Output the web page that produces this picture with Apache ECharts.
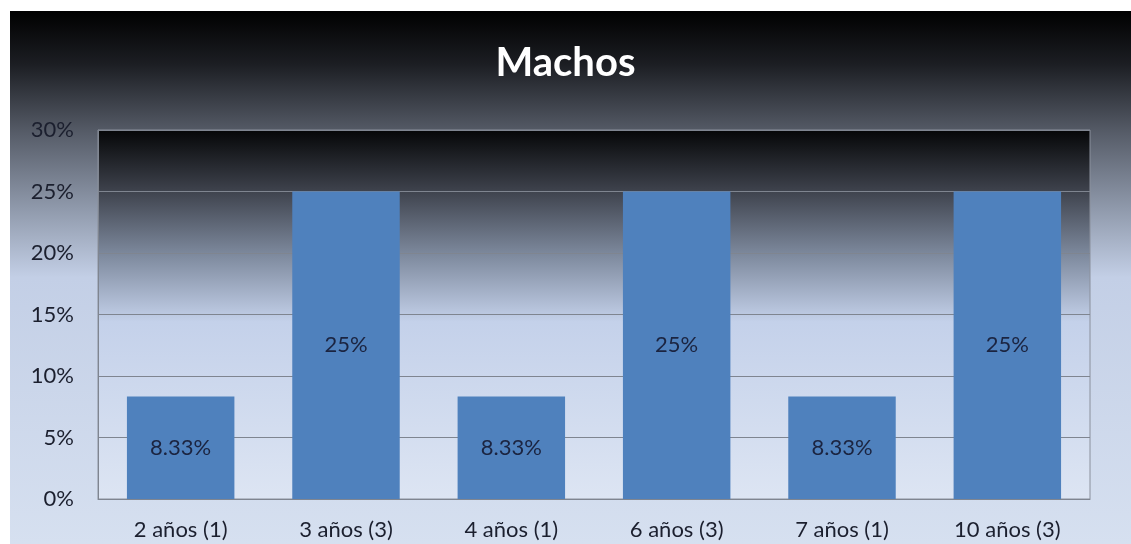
<!DOCTYPE html>
<html><head><meta charset="utf-8">
<script src="https://cdn.jsdelivr.net/npm/echarts@6/dist/echarts.min.js"></script>
<style>html,body{margin:0;padding:0;background:#fff}#c{width:1131px;height:544px}</style>
</head><body><div id="c"></div>
<script>
const categories = ['2 años (1)', '3 años (3)', '4 años (1)', '6 años (3)', '7 años (1)', '10 años (3)'];
const values = [8.33, 25, 8.33, 25, 8.33, 25];
const labels = ['8.33%', '25%', '8.33%', '25%', '8.33%', '25%'];
const yTicks = [0, 5, 10, 15, 20, 25, 30];
const titleText = 'Machos';

const chart = echarts.init(document.getElementById('c'), null, {renderer: 'canvas'});
const font = 'Lato, "Open Sans", sans-serif';
chart.setOption({
  animation: false,
  graphic: [{
    type: 'rect', left: 10, top: 11, z: -10, silent: true,
    shape: {width: 1121, height: 533},
    style: {fill: new echarts.graphic.LinearGradient(0, 0, 0, 1, [
      {offset: 0, color: '#000000'},
      {offset: 0.1, color: '#1c1e23'},
      {offset: 0.23, color: '#575d69'},
      {offset: 0.37, color: '#8f99ab'},
      {offset: 0.5, color: '#c3cfe6'},
      {offset: 1, color: '#d6e0f0'}
    ])}
  }],
  title: {
    text: titleText, left: 'center', top: 38,
    textStyle: {color: '#ffffff', fontSize: 40, fontWeight: 'bold', fontFamily: font}
  },
  grid: {
    left: 98, right: 41, top: 130, bottom: 45, show: true,
    borderColor: '#8a909c', borderWidth: 1,
    backgroundColor: new echarts.graphic.LinearGradient(0, 0, 0, 1, [
      {offset: 0, color: '#050607'},
      {offset: 0.16, color: '#3c404a'},
      {offset: 0.34, color: '#7e8a9e'},
      {offset: 0.52, color: '#c4d1ea'},
      {offset: 1, color: '#dde5f3'}
    ])
  },
  xAxis: {
    type: 'category', data: categories,
    axisLine: {lineStyle: {color: '#7f8590'}},
    axisTick: {show: false},
    axisLabel: {color: '#1b1f2e', fontSize: 22, fontFamily: font, margin: 20}
  },
  yAxis: {
    type: 'value', min: 0, max: 30, interval: 5,
    axisLine: {show: true, lineStyle: {color: '#7f8590'}},
    axisTick: {show: false},
    splitLine: {lineStyle: {color: '#7f8590', width: 1}},
    axisLabel: {color: '#1b1f2e', fontSize: 22, fontFamily: font, margin: 24,
      formatter: v => yTicks.includes(v) ? v + '%' : ''}
  },
  series: [{
    type: 'bar', data: values, barWidth: '65%',
    itemStyle: {color: '#4f81bd'},
    label: {show: true, position: 'inside', color: '#1b2440', fontSize: 22, fontFamily: font,
      formatter: p => labels[p.dataIndex]}
  }]
});
</script></body></html>
